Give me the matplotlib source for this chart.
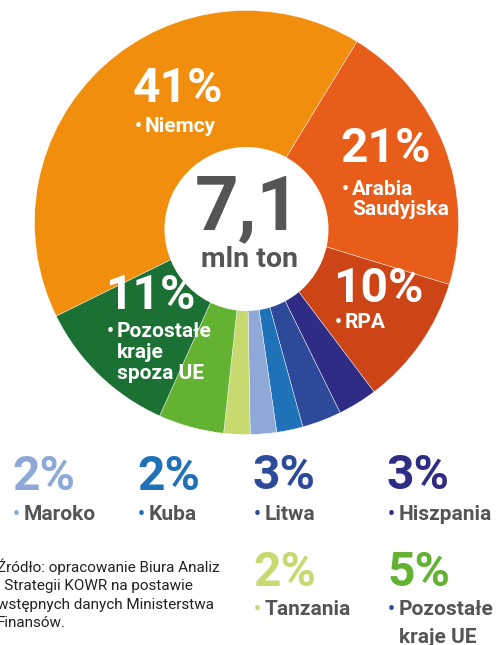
import matplotlib
matplotlib.use("Agg")
import matplotlib.pyplot as plt
from matplotlib.patches import Circle

plt.rcParams['font.family'] = ['Roboto', 'DejaVu Sans']

countries = ['Niemcy', 'Arabia Saudyjska', 'RPA', 'Hiszpania', 'Litwa', 'Kuba',
             'Maroko', 'Tanzania', 'Pozostałe kraje UE', 'Pozostałe kraje spoza UE']
shares = [41, 21, 10, 3, 3, 2, 2, 2, 5, 11]
colors = ['#F18E0E', '#E85D19', '#CD4516', '#2E2C84', '#2D4A9A', '#1F72B8',
          '#8EA8D8', '#C8D96F', '#63B232', '#1B7133']
total_label = '7,1'
total_unit = 'mln ton'
source_lines = ['Źródło: opracowanie Biura Analiz', 'i Strategii KOWR na postawie',
                'wstępnych danych Ministerstwa', 'Finansów.']

W, H = 497, 645
fig = plt.figure(figsize=(W / 100, H / 100), dpi=100)
ax = fig.add_axes([0, 0, 1, 1])


def Y(y):
    # pixel row -> data y
    return H - y


ax.pie(shares, colors=colors, startangle=206.2, counterclock=False,
       center=(246.5, Y(222.5)), radius=212,
       wedgeprops=dict(edgecolor='white', linewidth=0.3))
ax.add_patch(Circle((246.5, Y(229)), 82, facecolor='white', edgecolor='none', zorder=5))
ax.set_xlim(0, W)
ax.set_ylim(0, H)
ax.set_aspect('equal')
ax.axis('off')

# center total
ax.text(247.5, Y(229), total_label, ha='center', va='baseline', fontsize=55,
        fontweight='bold', color='#555555', zorder=6)
ax.text(249.5, Y(267), total_unit, ha='center', va='baseline', fontsize=20.5,
        fontweight='bold', color='#555555', zorder=6)

# labels inside slices: index, x, pct baseline, name lines, name baselines
inside = [
    (0, 133, 102, ['Niemcy'], [132]),
    (1, 340, 162, ['Arabia', 'Saudyjska'], [195, 215]),
    (2, 333, 302, ['RPA'], [328]),
    (9, 105, 309, ['Pozostałe', 'kraje', 'spoza UE'], [337, 358, 379]),
]
for i, x, yb, lines, ybs in inside:
    ax.text(x, Y(yb), f'{shares[i]}%', ha='left', va='baseline', fontsize=34.5,
            fontweight='bold', color='white', zorder=6)
    ax.text(x + 2, Y(ybs[0]), '•', ha='left', va='baseline', fontsize=14,
            fontweight='bold', color='white', zorder=6)
    for line, yl in zip(lines, ybs):
        ax.text(x + 12, Y(yl), line, ha='left', va='baseline', fontsize=15,
                fontweight='bold', color='white', zorder=6)

# legend for small slices below the chart
legend = [
    (6, 12, 490, ['Maroko'], [520], '#8EA8D8'),
    (5, 137, 490, ['Kuba'], [520], '#1F72B8'),
    (4, 253, 489, ['Litwa'], [520], '#2D4A9A'),
    (3, 387, 489, ['Hiszpania'], [520], '#2E2C84'),
    (7, 253, 586, ['Tanzania'], [615], '#C8D96F'),
    (8, 387, 586, ['Pozostałe', 'kraje UE'], [615, 643], '#2D4A9A'),
]
for i, x, yb, lines, ybs, bullet_c in legend:
    ax.text(x, Y(yb), f'{shares[i]}%', ha='left', va='baseline', fontsize=34.5,
            fontweight='bold', color=colors[i])
    ax.text(x + 1, Y(ybs[0]), '•', ha='left', va='baseline', fontsize=14,
            fontweight='bold', color=bullet_c)
    for line, yl in zip(lines, ybs):
        ax.text(x + 12, Y(yl), line, ha='left', va='baseline', fontsize=15,
                fontweight='bold', color='#555555')

for k, line in enumerate(source_lines):
    ax.text(-3, Y(572 + 18.4 * k), line, ha='left', va='baseline', fontsize=11,
            color='#222222')

fig.savefig('out.png', dpi=100)
